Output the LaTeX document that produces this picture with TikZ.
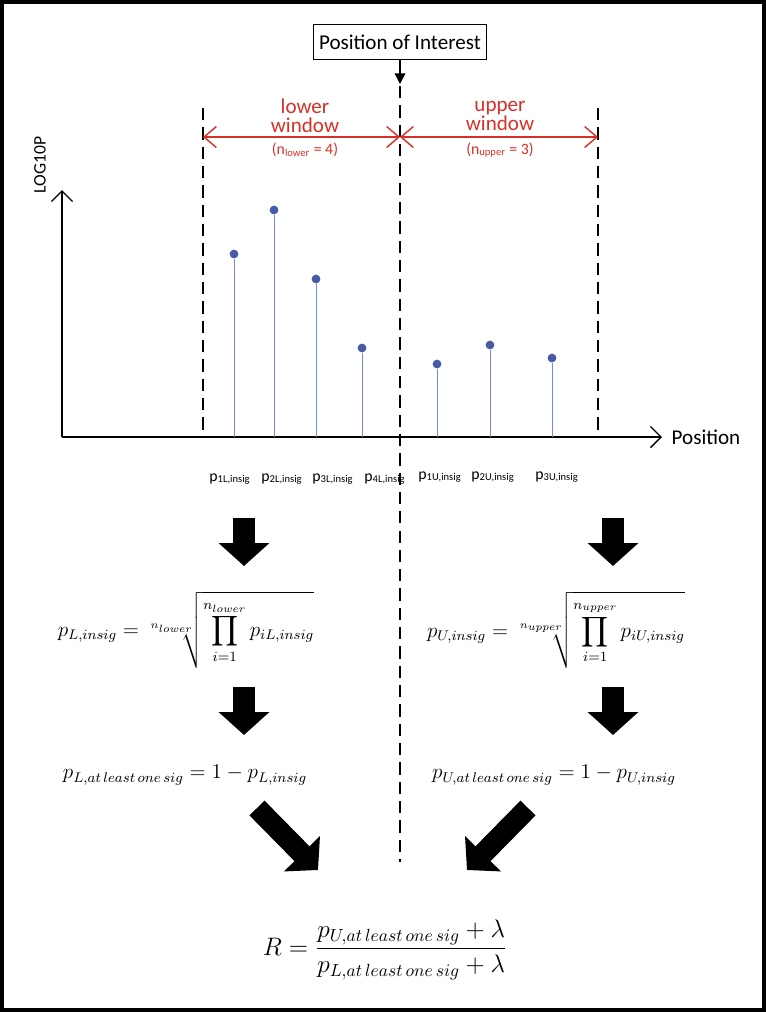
\documentclass[tikz,border=0pt]{standalone}
\usepackage{fontspec}
\setsansfont{Carlito}
\usepackage{amsmath}
\usetikzlibrary{arrows.meta}
\usetikzlibrary{positioning}
\definecolor{winred}{RGB}{214,48,39}
\definecolor{stemblue}{RGB}{110,140,215}
\definecolor{dotblue}{RGB}{70,90,165}

\begin{document}
\begin{tikzpicture}[x=0.02cm,y=-0.02cm,
		boundary/.style = {dashed,dash pattern=on 7pt off 4pt,line width=1.6pt},
		stem/.style = {stemblue,thin},
		dot/.style = {circle,fill=dotblue,inner sep=0pt,minimum size=5pt},
		plabel/.style = {font=\sffamily\small},
		winlabel/.style = {winred,font=\sffamily\large,align=center},
		formula/.style = {font=\large},
		bigarrow/.style = {line width=12pt,-{Triangle[width=28pt,length=13pt]}}]
	\useasboundingbox (0,0) rectangle (766,1012);
	\draw[line width=2.8pt] (1.5,1.5) rectangle (764.5,1010.5);
	% position of interest
	\node[draw,thick,font=\sffamily\large,minimum width=3.3cm,minimum height=0.7cm] (poi) at (400,42) {Position of Interest};
	\coordinate (poitip) at (400,84);
	\draw[thick,-{Triangle[width=6pt,length=6pt]}] (poi) -- (poitip);
	\coordinate (midtop) at (400,86);
	\coordinate (midbot) at (400,862);
	\coordinate (lefttop) at (203,108);
	\coordinate (leftbot) at (203,437);
	\coordinate (righttop) at (598,108);
	\coordinate (rightbot) at (598,437);
	\draw[boundary] (midtop) -- (midbot);
	\draw[boundary] (lefttop) -- (leftbot);
	\draw[boundary] (righttop) -- (rightbot);
	% windows
	\coordinate (wl) at (203,137);
	\coordinate (wm) at (400,137);
	\coordinate (wr) at (598,137);
	\draw[winred,thick,{Straight Barb[length=7pt,width=12pt]}-{Straight Barb[length=7pt,width=12pt]}] (wl) -- (wm);
	\draw[winred,thick,{Straight Barb[length=7pt,width=12pt]}-{Straight Barb[length=7pt,width=12pt]}] (wm) -- (wr);
	\node[winlabel] (lowerlab) at (305,116) {lower\\[-3pt]window};
	\node[winlabel,font=\sffamily\small] (lowern) at (305,150) {(n\textsubscript{lower} = 4)};
	\node[winlabel] (upperlab) at (500,116) {upper\\[-3pt]window};
	\node[winlabel,font=\sffamily\small] (uppern) at (500,150) {(n\textsubscript{upper} = 3)};
	% axes
	\coordinate (origin) at (62,437);
	\coordinate (ytop) at (62,190);
	\coordinate (xend) at (662,437);
	\draw[thick,-{Straight Barb[length=6pt,width=12pt]}] (origin) -- (ytop);
	\draw[thick,-{Straight Barb[length=6pt,width=12pt]}] (origin) -- (xend);
	\node[font=\sffamily,rotate=90] (ylab) at (40,165) {LOG10P};
	\node[font=\sffamily\large,right=2pt of xend] (xlab) {Position};
	% stems
	\begin{scope}[every node/.style={dot}]
		\node (d1) at (234,254) {};
		\node (d2) at (274,210) {};
		\node (d3) at (316,279) {};
		\node (d4) at (362,348) {};
		\node (d5) at (437,364) {};
		\node (d6) at (490,345) {};
		\node (d7) at (552,358) {};
	\end{scope}
	\coordinate (b1) at (234,437);
	\coordinate (b2) at (274,437);
	\coordinate (b3) at (316,437);
	\coordinate (b4) at (362,437);
	\coordinate (b5) at (437,437);
	\coordinate (b6) at (490,437);
	\coordinate (b7) at (552,437);
	\draw[stem] (d1) -- (b1);
	\draw[stem] (d2) -- (b2);
	\draw[stem] (d3) -- (b3);
	\draw[stem] (d4) -- (b4);
	\draw[stem] (d5) -- (b5);
	\draw[stem] (d6) -- (b6);
	\draw[stem] (d7) -- (b7);
	\node[plabel] (l1) at (230,479) {p\textsubscript{1L,insig}};
	\node[plabel] (l2) at (282,479) {p\textsubscript{2L,insig}};
	\node[plabel] (l3) at (333,479) {p\textsubscript{3L,insig}};
	\node[plabel] (l4) at (385,479) {p\textsubscript{4L,insig}};
	\node[plabel] (l5) at (440,477) {p\textsubscript{1U,insig}};
	\node[plabel] (l6) at (493,477) {p\textsubscript{2U,insig}};
	\node[plabel] (l7) at (557,477) {p\textsubscript{3U,insig}};
	% formulas
	\node[formula] (fl1) at (186,630) {$\displaystyle p_{L,insig} = \sqrt[n_{lower}]{\prod_{i=1}^{n_{lower}} p_{iL,insig}}$};
	\node[formula] (fr1) at (556,630) {$\displaystyle p_{U,insig} = \sqrt[n_{upper}]{\prod_{i=1}^{n_{upper}} p_{iU,insig}}$};
	\node[formula] (fl2) at (185,775) {$p_{L,at\,least\,one\,sig} = 1 - p_{L,insig}$};
	\node[formula] (fr2) at (554,775) {$p_{U,at\,least\,one\,sig} = 1 - p_{U,insig}$};
	\node[font=\Large] (ratio) at (385,950) {$\displaystyle R = \frac{p_{U,at\,least\,one\,sig} + \lambda}{p_{L,at\,least\,one\,sig} + \lambda}$};
	% big arrows
	\coordinate (a1s) at (244,518); \coordinate (a1e) at (244,566);
	\coordinate (a2s) at (613,518); \coordinate (a2e) at (613,566);
	\coordinate (a3s) at (244,687); \coordinate (a3e) at (244,735);
	\coordinate (a4s) at (613,687); \coordinate (a4e) at (613,735);
	\coordinate (a5s) at (257,808); \coordinate (a5e) at (318,870);
	\coordinate (a6s) at (528,808); \coordinate (a6e) at (467,870);
	\draw[bigarrow] (a1s) -- (a1e);
	\draw[bigarrow] (a2s) -- (a2e);
	\draw[bigarrow] (a3s) -- (a3e);
	\draw[bigarrow] (a4s) -- (a4e);
	\draw[bigarrow] (a5s) -- (a5e);
	\draw[bigarrow] (a6s) -- (a6e);
\end{tikzpicture}
\end{document}
